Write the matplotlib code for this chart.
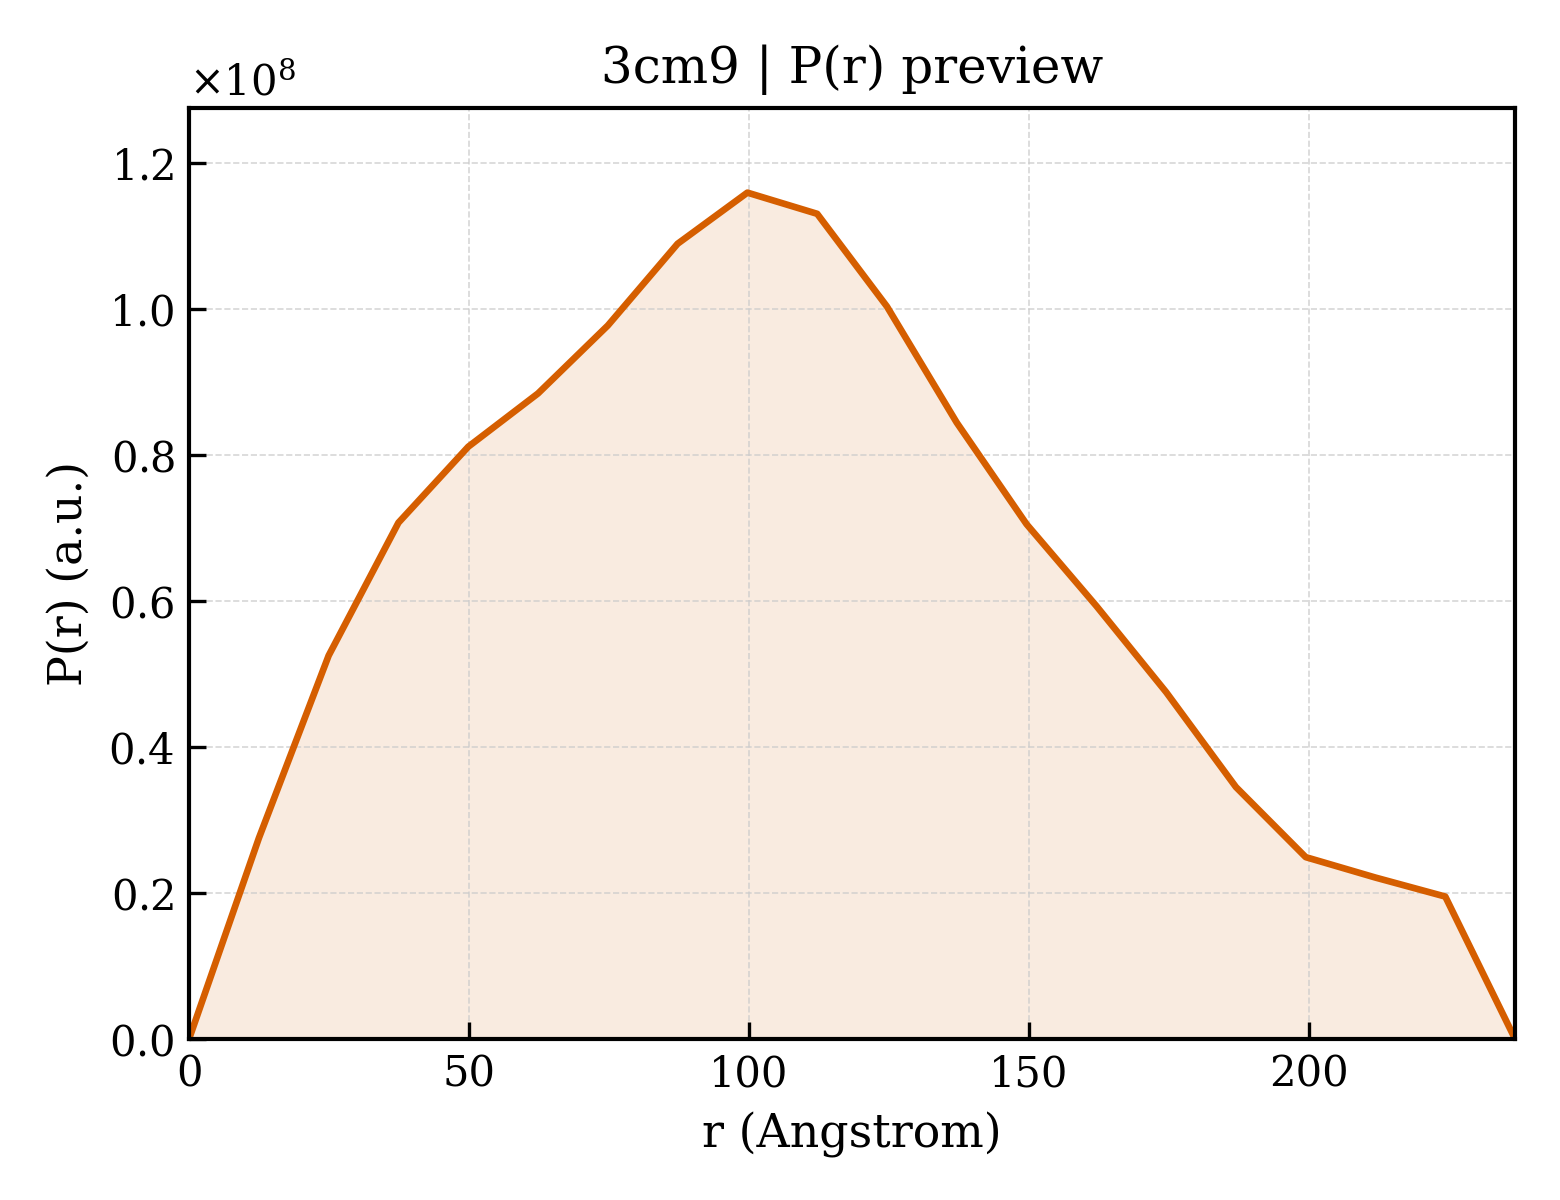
import numpy as np
import matplotlib
matplotlib.use("Agg")
import matplotlib.pyplot as plt

plt.rcParams["font.family"] = "DejaVu Serif"
plt.rcParams["mathtext.fontset"] = "dejavuserif"

# P(r) samples (values in units of 1e8)
r_max = 236.8
n_pts = 20
pr_scaled = [0.0, 0.275, 0.525, 0.707, 0.811, 0.884, 0.977, 1.089, 1.159, 1.130,
             1.003, 0.844, 0.705, 0.593, 0.475, 0.345, 0.249, 0.221, 0.195, 0.0]

r = np.linspace(0, r_max, n_pts)
pr = np.array(pr_scaled) * 1e8

fig, ax = plt.subplots(figsize=(5.2, 4.0), dpi=300)

line_color = "#D55E00"
ax.fill_between(r, pr, 0, color=line_color, alpha=0.12, linewidth=0)
ax.plot(r, pr, color=line_color, linewidth=1.6)

ax.set_xlim(0, r_max)
ax.set_ylim(0, pr.max() * 1.1)
ax.set_xlabel("r (Angstrom)", fontsize=11)
ax.set_ylabel("P(r) (a.u.)", fontsize=11)
ax.set_title("3cm9 | P(r) preview", fontsize=12)

ax.ticklabel_format(axis="y", style="sci", scilimits=(0, 0), useMathText=True)
ax.yaxis.get_offset_text().set_fontsize(10)
ax.tick_params(direction="in", labelsize=10, length=4, width=0.8)
ax.grid(True, linestyle="--", linewidth=0.4, color="#cccccc", alpha=0.8)
for sp in ax.spines.values():
    sp.set_linewidth(1.0)

fig.subplots_adjust(left=0.1212, right=0.9712, top=0.91, bottom=0.1342)
plt.savefig("out.png", dpi=300)
